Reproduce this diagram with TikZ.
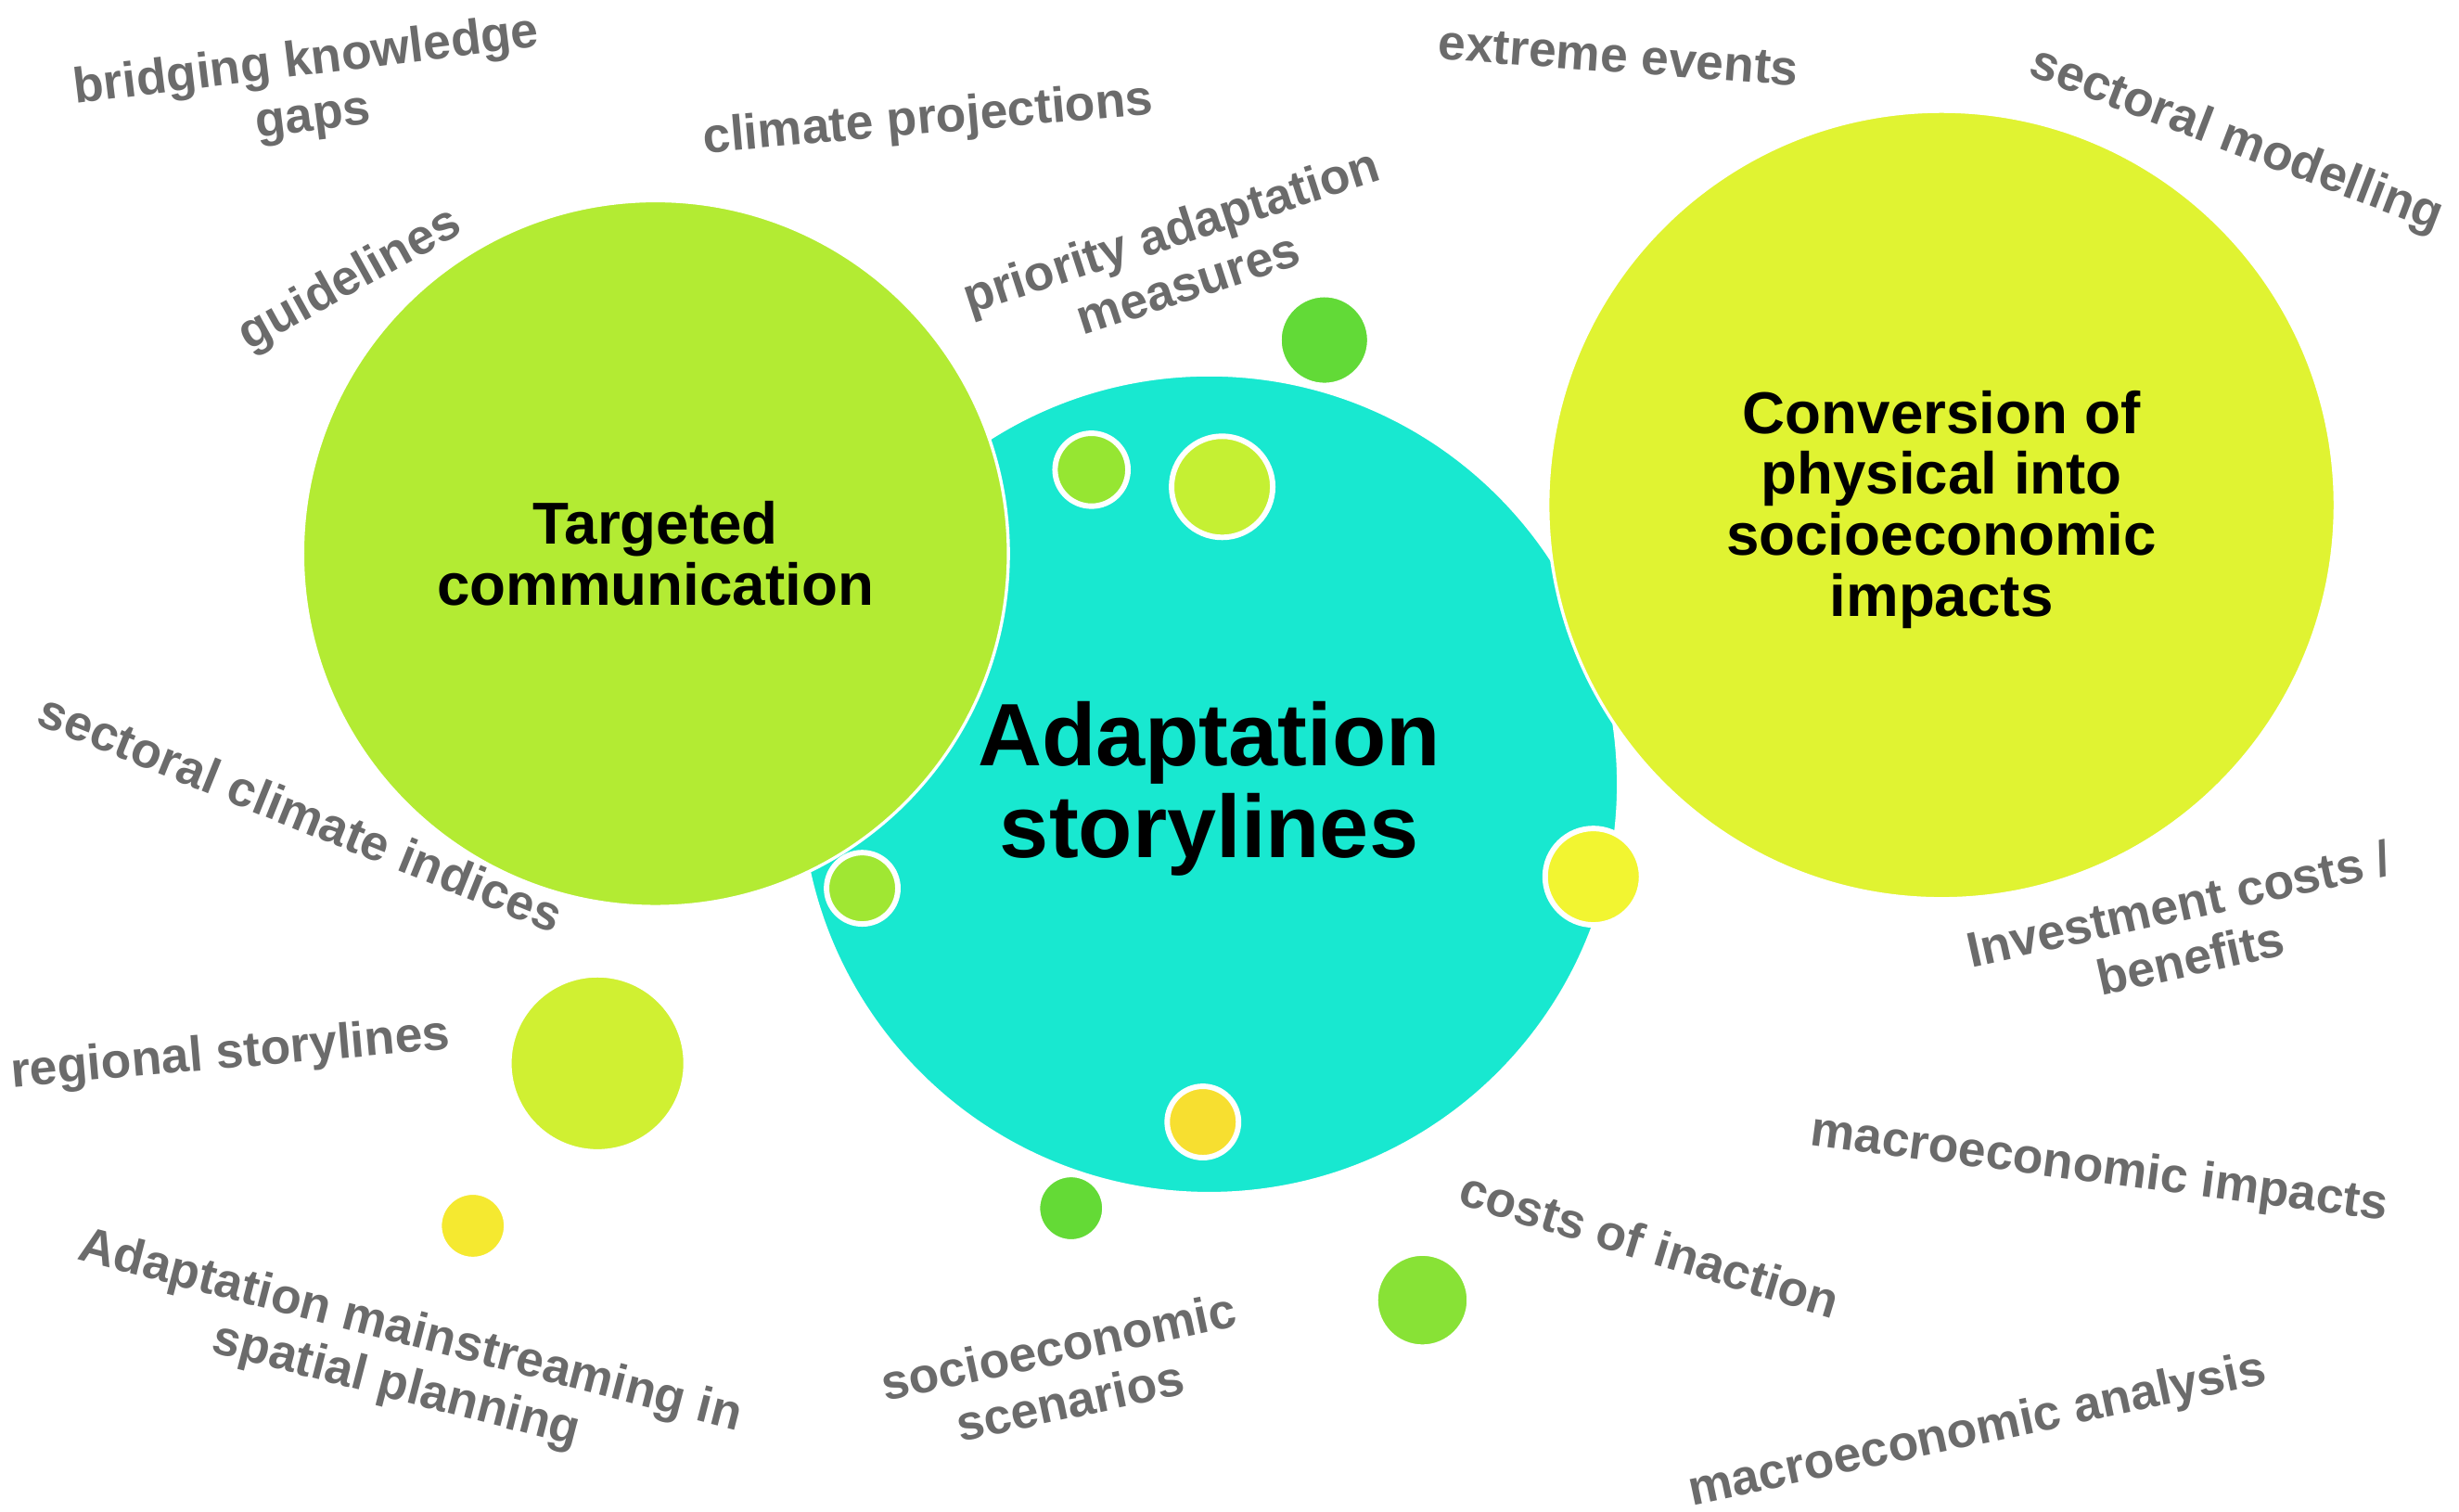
\documentclass[tikz,border=0pt]{standalone}
\usepackage{fontspec}
\setmainfont{Liberation Sans}
\definecolor{cyanC}{HTML}{18E8D0}
\definecolor{greenC}{HTML}{B3EB33}
\definecolor{yellowC}{HTML}{E0F332}
\definecolor{labelgray}{HTML}{6B6B6B}
\definecolor{dotA}{HTML}{96E632}
\definecolor{dotB}{HTML}{C5F033}
\definecolor{dotC}{HTML}{62DA37}
\definecolor{dotD}{HTML}{A0E733}
\definecolor{dotE}{HTML}{F2F531}
\definecolor{dotF}{HTML}{F7DF30}
\definecolor{dotG}{HTML}{64DA36}
\definecolor{dotH}{HTML}{88E236}
\definecolor{dotI}{HTML}{D0F032}
\definecolor{dotJ}{HTML}{F5E930}
\begin{document}
\begin{tikzpicture}[x=1pt,y=-1pt,
  big/.style={circle,inner sep=0pt,draw=white,line width=2pt},
  title/.style={inner sep=0pt,align=center,text=black,
    font=\fontsize{37.7}{39}\selectfont\bfseries},
  dot/.style={circle,inner sep=0pt,draw=white,line width=3.5pt},
  lbl/.style={text=labelgray,inner sep=0pt,align=center,
    font=\fontsize{31.6}{35.5}\selectfont\bfseries}]
\useasboundingbox (0,0) rectangle (1568,964);
% big circles
\node[big, fill=cyanC, minimum size=522pt] (cAdapt) at (771,500) {};
\node[big, fill=greenC, minimum size=450pt] (cTarget) at (418,353) {};
\node[big, fill=yellowC, minimum size=502pt] (cConv) at (1238,322) {};
\node[title, font=\fontsize{56.5}{58.5}\selectfont\bfseries] (tAdapt) at ([yshift=-3pt]cAdapt.center) {Adaptation\\storylines};
\node[title] (tTarget) at (cTarget.center) {Targeted\\communication};
\node[title] (tConv) at ([yshift=-3pt]cConv.center) {Conversion of\\physical into\\socioeconomic\\impacts};
% small circles
\node[dot, fill=dotA, minimum size=46.5pt] (d1) at (696,299.5) {};
\node[dot, fill=dotB, minimum size=64.5pt] (d2) at (779.3,310.4) {};
\node[dot, fill=dotC, minimum size=58pt] (d3) at (844.5,216.8) {};
\node[dot, fill=dotD, minimum size=45.5pt] (d4) at (549.8,566.4) {};
\node[dot, fill=dotE, minimum size=61.5pt] (d5) at (1016,559) {};
\node[dot, fill=dotF, minimum size=45.5pt] (d6) at (767,715.4) {};
\node[dot, fill=dotG, minimum size=43pt] (d7) at (683,770.4) {};
\node[dot, fill=dotH, minimum size=60pt] (d8) at (907,829) {};
\node[dot, fill=dotI, minimum size=113pt] (d9) at (381,678) {};
\node[dot, fill=dotJ, minimum size=43pt] (d10) at (301.5,781.6) {};
% labels
\node[lbl, rotate=7] (lBridge) at (197.5,57.5) {bridging knowledge\\gaps};
\node[lbl, rotate=29] (lGuide) at (223.5,179) {guidelines};
\node[lbl, rotate=5] (lClimProj) at (592,77) {climate projections};
\node[lbl, rotate=18] (lPriority) at (752,163.5) {priority adaptation\\measures};
\node[lbl, rotate=-4.2] (lExtreme) at (1032,36) {extreme events};
\node[lbl, rotate=-21] (lSectMod) at (1426,90) {sectoral modelling};
\node[lbl, rotate=-22] (lSectClim) at (192,518) {sectoral climate indices};
\node[lbl, rotate=5] (lRegional) at (147,673) {regional storylines};
\node[lbl, rotate=-14.5] (lMainstream) at (257,867) {Adaptation mainstreaming in\\spatial planning};
\node[lbl, rotate=12] (lSocio) at (678.6,875.7) {socioeconomic\\scenarios};
\node[lbl, rotate=-17] (lCosts) at (1052,793.5) {costs of inaction};
\node[lbl, rotate=-7.5] (lMacroImp) at (1338.5,746) {macroeconomic impacts};
\node[lbl, rotate=12] (lMacroAna) at (1261,913) {macroeconomic analysis};
\node[lbl, rotate=12.5] (lInvest) at (1393,593.5) {Investment costs /\\benefits};
\end{tikzpicture}
\end{document}
